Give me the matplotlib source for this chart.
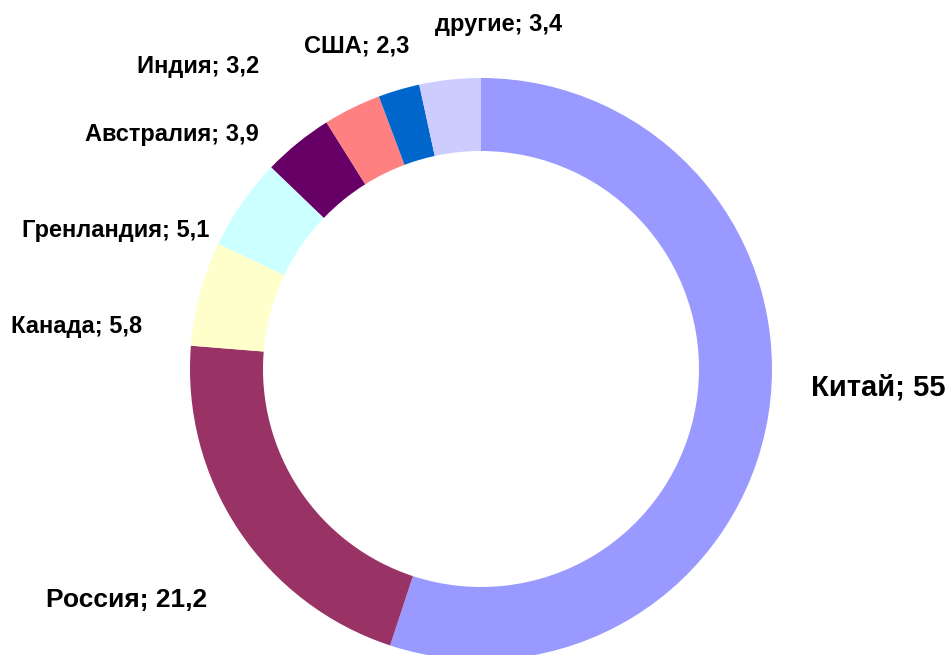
import numpy as np
import matplotlib.pyplot as plt

plt.rcParams['font.family'] = ['Liberation Sans', 'DejaVu Sans']

names = ['Китай', 'Россия', 'Канада', 'Гренландия', 'Австралия', 'Индия', 'США', 'другие']
values = [55, 21.2, 5.8, 5.1, 3.9, 3.2, 2.3, 3.4]
colors = ['#9999FF', '#993366', '#FFFFCC', '#CCFFFF', '#660066', '#FF8080', '#0066CC', '#CCCCFF']

# label left edge / vertical centre in pixels from top-left
label_pos = [(811, 388), (46, 600), (11, 327), (22, 231), (85, 135), (137, 66), (304, 46), (435, 24)]
label_size = [21, 19, 17, 17, 17, 17, 17, 17]

W, H = 949, 655
fig = plt.figure(figsize=(W / 100, H / 100), dpi=100)
ax = fig.add_axes([0, 0, 1, 1])

ax.pie(values, colors=colors, startangle=90, counterclock=False,
       center=(481, H - 369), radius=291,
       wedgeprops=dict(width=291 - 218, linewidth=0), frame=True)
ax.set_xlim(0, W)
ax.set_ylim(0, H)
ax.set_aspect('equal')
ax.axis('off')

for i, (n, v) in enumerate(zip(names, values)):
    txt = '{}; {}'.format(n, ('%g' % v).replace('.', ','))
    x, y = label_pos[i]
    ax.text(x, H - y, txt, ha='left', va='center', fontweight='bold',
            fontsize=label_size[i])

fig.savefig('out.png', dpi=100)
